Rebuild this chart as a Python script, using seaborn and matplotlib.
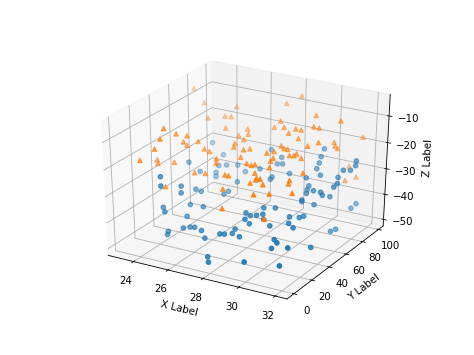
import matplotlib
matplotlib.use('Agg')
import matplotlib.pyplot as plt
import seaborn as sns

blue_x = [23.8,24.6,23.8,24.8,25.1,25.6, 24.4,24.8,26.2,26.9,29.5,27.7, 29.7,27.6,28.0,29.7,31.5,31.6,
          29.8,31.2,31.5,27.0,28.6,30.2, 23.8,24.9,26.2,24.1,24.6,24.7, 24.9,25.1,26.1,26.1,25.0,25.7,
          24.2,24.4,25.3,28.1,28.3,28.6, 25.4,25.8,26.0,24.8,24.8,26.5, 26.8,27.5,27.7,28.0,28.0,28.5,
          27.6,27.8,29.6,27.9,27.8,29.6, 31.1,31.3,31.2,29.9,29.9,30.4, 30.1,30.8,30.9,31.0,30.0,30.1,
          30.5,31.8,31.7,28.7,29.2,28.3, 28.7,28.9,29.1,30.2,30.4,30.5, 30.6,30.7,29.6,31.6,31.7,30.3,
          30.6,30.4,31.2,31.7,31.3]
blue_y = [82,79,56,70,73,76, 57,67,73,89,98,85, 90,82,80,88,94,91,
          83,85,87,74,76,79, 26,65,64,21,33,31, 43,45,56,51,35,36,
          21,19,26,37,32,31, 20,20,21,15,14,19, 17,20,21,24,27,22,
          5,2,6,70,70,75, 81,76,74,72,70,67, 65,67,67,74,62,60,
          66,89,85,45,48,38, 37,40,37,44,39,49, 52,38,34,63,67,25,
          22,20,22,38,11]
blue_z = [-27,-30,-29,-32,-32,-32, -32,-34,-33,-27,-25,-28, -26,-30,-29,-28,-26,-27,
          -29,-28,-28,-31,-31,-30, -28,-35,-35,-30,-32,-34, -35,-36,-37,-37,-39,-39,
          -38,-39,-41,-38,-39,-40, -44,-43,-43,-45,-46,-43, -45,-43,-43,-43,-42,-43,
          -48,-49,-47,-32,-33,-31, -30,-31,-32,-33,-34,-33, -34,-33,-34,-36,-36,-36,
          -38,-41,-42,-37,-37,-39, -38,-38,-39,-38,-39,-39, -39,-40,-40,-46,-46,-42,
          -42,-44,-43,-46,-47]

orange_x = [23.3,24.0,25.5,24.7,25.3,25.6, 25.6,24.2,24.5,24.2,24.9,24.8, 25.0,25.2,26.5,27.0,26.7,26.9,
            25.6,26.0,24.1,27.5,23.7,24.0, 24.1,24.7,26.6,26.7,27.7,28.2, 25.9,26.4,28.3,27.8,29.7,31.1,
            28.2,28.0,28.6,30.0,30.3,29.2, 29.5,26.8,27.0,29.0,31.9,29.6, 30.7,31.0,31.1,31.2,30.3,29.0,
            29.3,29.5,27.7,28.7,28.9,29.8, 30.0,30.0,30.3,29.3,29.2,28.5, 28.6,29.4,31.5,28.8,30.8,27.5,
            27.7,24.9,27.8,28.5,29.2,29.4, 29.1,28.9,29.7,30.7,30.7,29.6, 30.2,31.1,31.9,32.0,30.7]
orange_y = [72,70,77,61,68,69, 63,24,31,20,35,33, 33,41,60,56,52,47,
            40,38,16,46,8,20, 19,25,34,32,39,36, 24,26,95,88,83,82,
            73,70,69,74,74,70, 70,64,61,66,92,65, 65,77,76,77,61,58,
            55,55,49,48,52,51, 52,55,54,43,42,35, 37,37,85,33,46,26,
            26,12,18,4,27,27, 28,26,24,33,32,16, 21,28,72,83,6]
orange_z = [-5,-9,-10,-12,-12,-12, -15,-9,-12,-12,-13,-15, -16,-16,-16,-16,-17,-17,
            -18,-18,-15,-17,-18,-20, -21,-21,-19,-20,-18,-19, -23,-23,-6,-8,-9,-9,
            -11,-13,-12,-11,-11,-12, -12,-14,-15,-13,-16,-14, -14,-16,-17,-18,-15,-16,
            -16,-16,-17,-17,-17,-17, -17,-17,-18,-17,-18,-19, -19,-19,-26,-21,-21,-22,
            -22,-27,-25,-28,-21,-21, -22,-23,-22,-21,-22,-24, -24,-24,-28,-29,-29]

palette = sns.color_palette('tab10')
fig = plt.figure(figsize=(474/74, 355/74), dpi=74)
ax = fig.add_subplot(projection='3d')
ax.apply_aspect = lambda position=None: None
ax.set_box_aspect((1, 1, 1), zoom=0.945)
ax.scatter(blue_x, blue_y, blue_z, color=palette[0], marker='o')
ax.scatter(orange_x, orange_y, orange_z, color=palette[1], marker='^')
ax.set_xlim(22.5, 32.65)
ax.set_ylim(-7.5, 106)
ax.set_zlim(-52.6, -2)
ax.set_xlabel('X Label')
ax.set_ylabel('Y Label')
ax.set_zlabel('Z Label')
fig.savefig('out.png')
